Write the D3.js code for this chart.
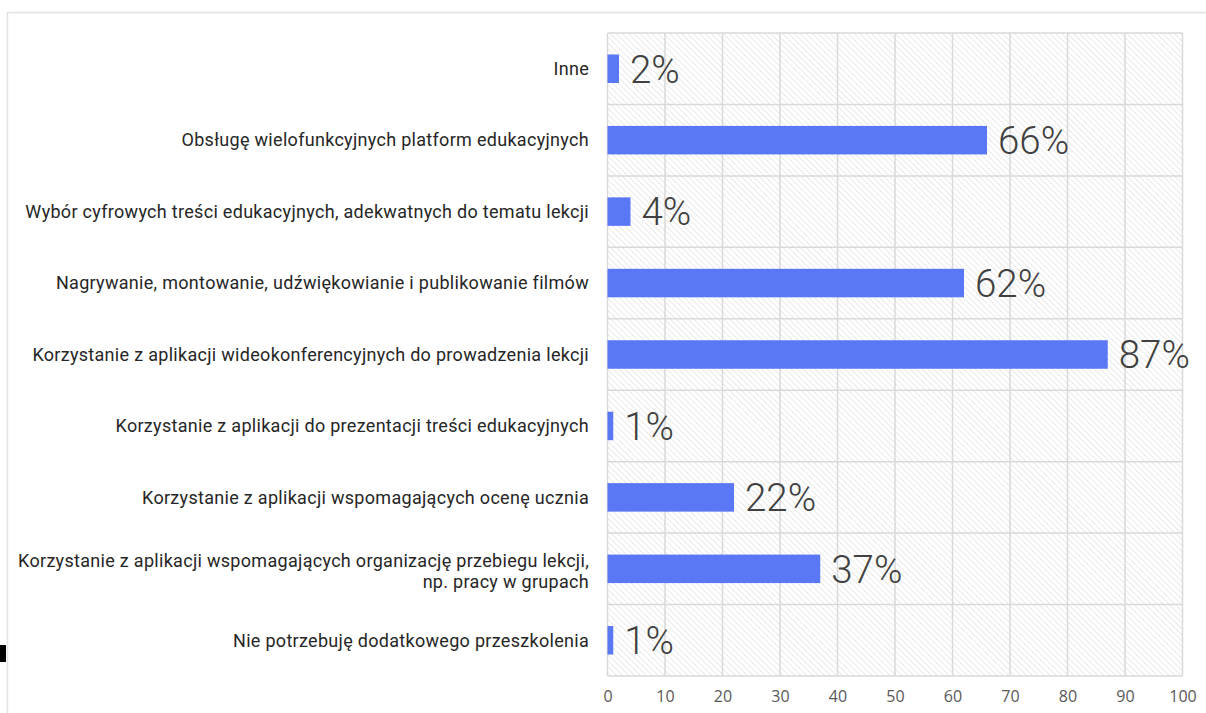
<!DOCTYPE html>
<html>
<head>
<meta charset="utf-8">
<script src="https://cdn.jsdelivr.net/npm/d3@7"></script>
<style>
  html, body { margin: 0; padding: 0; background: #fff; }
  svg { display: block; }
</style>
</head>
<body>
<svg id="chart" width="1206" height="713"></svg>
<script>
// Survey answers: training needs, share of respondents (%)
const categories = [
  "Inne",
  "Obsługę wielofunkcyjnych platform edukacyjnych",
  "Wybór cyfrowych treści edukacyjnych, adekwatnych do tematu lekcji",
  "Nagrywanie, montowanie, udźwiękowianie i publikowanie filmów",
  "Korzystanie z aplikacji wideokonferencyjnych do prowadzenia lekcji",
  "Korzystanie z aplikacji do prezentacji treści edukacyjnych",
  "Korzystanie z aplikacji wspomagających ocenę ucznia",
  "Korzystanie z aplikacji wspomagających organizację przebiegu lekcji,\nnp. pracy w grupach",
  "Nie potrzebuję dodatkowego przeszkolenia"
];
const values = [2, 66, 4, 62, 87, 1, 22, 37, 1];
const xTicks = [0, 10, 20, 30, 40, 50, 60, 70, 80, 90, 100];

const svg = d3.select("#chart");
const plot = { left: 607.5, right: 1182.5, top: 33, bottom: 676 };

// Frame around the whole figure
svg.append("rect")
  .attr("x", 7.5).attr("y", 12.5)
  .attr("width", 1220).attr("height", 720)
  .attr("fill", "none").attr("stroke", "#e3e3e3").attr("stroke-width", 1.5);

svg.append("rect")
  .attr("x", 0).attr("y", 645).attr("width", 6).attr("height", 17)
  .attr("fill", "#000");

// Diagonal hatch fill for the plot area
const defs = svg.append("defs");
const pat = defs.append("pattern")
  .attr("id", "hatch")
  .attr("patternUnits", "userSpaceOnUse")
  .attr("width", 4.2).attr("height", 4.2)
  .attr("patternTransform", "rotate(-45)");
pat.append("rect").attr("width", 4.2).attr("height", 4.2).attr("fill", "#fff");
pat.append("line")
  .attr("x1", 0).attr("y1", 0).attr("x2", 0).attr("y2", 4.2)
  .attr("stroke", "#dfdfdf").attr("stroke-width", 1.3);

const x = d3.scaleLinear().domain([0, 100]).range([plot.left, plot.right]);
const y = d3.scaleBand().domain(categories).range([plot.top, plot.bottom]).paddingInner(0).paddingOuter(0);

svg.append("rect")
  .attr("x", plot.left).attr("y", plot.top)
  .attr("width", plot.right - plot.left).attr("height", plot.bottom - plot.top)
  .attr("fill", "url(#hatch)");

const gridColor = "#d9d9d9";
// Vertical gridlines
svg.append("g").selectAll("line").data(xTicks).join("line")
  .attr("x1", d => x(d)).attr("x2", d => x(d))
  .attr("y1", plot.top).attr("y2", plot.bottom)
  .attr("stroke", gridColor).attr("stroke-width", 1.5);

// Row separators
const bounds = categories.map(c => y(c)).concat([plot.bottom]);
svg.append("g").selectAll("line").data(bounds).join("line")
  .attr("x1", plot.left).attr("x2", plot.right)
  .attr("y1", d => d).attr("y2", d => d)
  .attr("stroke", gridColor).attr("stroke-width", 1.5);

// Bars
const barH = 28.5;
const rows = categories.map((c, i) => ({ c, v: values[i] }));
svg.append("g").selectAll("rect").data(rows).join("rect")
  .attr("x", x(0))
  .attr("y", d => y(d.c) + y.bandwidth() / 2 - barH / 2)
  .attr("width", d => x(d.v) - x(0))
  .attr("height", barH)
  .attr("fill", "#5a77f5");

// Value labels
svg.append("g").selectAll("text").data(rows).join("text")
  .attr("x", d => x(d.v) + 11)
  .attr("y", d => y(d.c) + y.bandwidth() / 2)
  .attr("dy", "0.36em")
  .attr("font-family", "Roboto")
  .attr("font-weight", 300)
  .attr("font-size", 38.5)
  .attr("fill", "#404040")
  .text(d => d.v + "%");

// Category labels
const lab = svg.append("g").selectAll("text").data(categories).join("text")
  .attr("text-anchor", "end")
  .attr("font-family", "Roboto")
  .attr("font-size", 18)
  .attr("letter-spacing", 0.3)
  .attr("fill", "#262626");
lab.each(function(d) {
  const lines = d.split("\n");
  const t = d3.select(this);
  const cy = y(d) + y.bandwidth() / 2 + (lines.length > 1 ? 2 : 0);
  const lh = 21;
  lines.forEach((ln, i) => {
    t.append("tspan")
      .attr("x", 589)
      .attr("y", cy + (i - (lines.length - 1) / 2) * lh)
      .attr("dy", "0.35em")
      .text(ln);
  });
});

// X axis tick labels
const axis = d3.axisBottom(x).tickValues(xTicks).tickSize(0).tickPadding(15);
const ax = svg.append("g").attr("transform", `translate(0,${plot.bottom})`).call(axis);
ax.select(".domain").remove();
ax.selectAll("text")
  .attr("font-family", "Open Sans")
  .attr("font-size", 16)
  .attr("fill", "#595959");
</script>
</body>
</html>
